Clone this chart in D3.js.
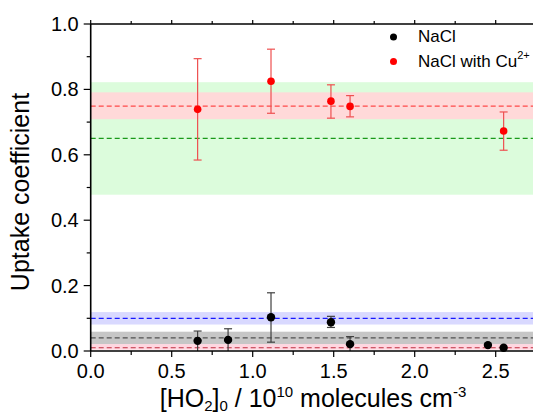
<!DOCTYPE html>
<html><head><meta charset="utf-8">
<script src="https://cdn.jsdelivr.net/npm/d3@7"></script>
<style>body{margin:0;background:#fff;overflow:hidden}svg{display:block;font-family:"Liberation Sans",Arial,sans-serif}</style>
</head><body>
<script>
// NaCl with Cu2+
const cuX = [0.66, 1.113, 1.483, 1.601, 2.549];
const cuY = [0.739, 0.825, 0.764, 0.748, 0.673];
const cuLo = [0.584, 0.727, 0.712, 0.716, 0.614];
const cuHi = [0.894, 0.923, 0.814, 0.781, 0.731];
// NaCl
const naX = [0.66, 0.848, 1.113, 1.483, 1.601, 2.452, 2.549];
const naY = [0.031, 0.034, 0.103, 0.088, 0.021, 0.018, 0.010];
const naLo = [0.0, 0.0, 0.027, 0.072, 0.0, null, null];
const naHi = [0.061, 0.068, 0.178, 0.106, 0.044, null, null];
// reference bands: [low, high], dashed mean
const bandLow = [0.478, 0.709, 0.081, 0.020, 0.004];
const bandHigh = [0.822, 0.791, 0.119, 0.059, 0.021];
const bandMean = [0.65, 0.749, 0.10, 0.04, 0.010];
const bandFill = ["#dcfcdc", "#ffd9d9", "#d9d9ff", "#c6c6c6", "#ffd6e0"];
const bandLine = ["#1a9a1a", "#ff4a4a", "#1a1aff", "#505050", "#c03040"];
const xTicks = [0, 0.5, 1.0, 1.5, 2.0, 2.5];
const yTicks = [0, 0.2, 0.4, 0.6, 0.8, 1.0];

const W = 533, H = 414;
const svg = d3.select("body").append("svg").attr("width", W).attr("height", H);
const x = d3.scaleLinear().domain([0, 2.75]).range([90.7, 536.2]);
const y = d3.scaleLinear().domain([0, 1]).range([351, 24]);

const g = svg.append("g");
// bands
bandLow.forEach((lo, i) => {
  g.append("rect").attr("x", x(0)).attr("width", x(2.75) - x(0))
    .attr("y", y(bandHigh[i])).attr("height", y(lo) - y(bandHigh[i]))
    .attr("fill", bandFill[i]);
});
bandMean.forEach((m, i) => {
  g.append("line").attr("x1", x(0)).attr("x2", x(2.75)).attr("y1", y(m)).attr("y2", y(m))
    .attr("stroke", bandLine[i]).attr("stroke-width", 1.2).attr("stroke-dasharray", "5,3");
});

// error bars
function errBars(xs, lo, hi, color) {
  xs.forEach((xv, i) => {
    if (lo[i] == null) return;
    const px = x(xv);
    g.append("line").attr("x1", px).attr("x2", px).attr("y1", y(lo[i])).attr("y2", y(hi[i]))
      .attr("stroke", color).attr("stroke-width", 1.2);
    [lo[i], hi[i]].forEach(v => {
      if (v <= 0) return;
      g.append("line").attr("x1", px - 4).attr("x2", px + 4).attr("y1", y(v)).attr("y2", y(v))
        .attr("stroke", color).attr("stroke-width", 1.2);
    });
  });
}
errBars(cuX, cuLo, cuHi, "#ee5050");
errBars(naX, naLo, naHi, "#404040");

g.selectAll(".cu").data(cuX).enter().append("circle")
  .attr("cx", d => x(d)).attr("cy", (d, i) => y(cuY[i])).attr("r", 3.8).attr("fill", "#ff0000");
g.selectAll(".na").data(naX).enter().append("circle")
  .attr("cx", d => x(d)).attr("cy", (d, i) => y(naY[i])).attr("r", 4.2).attr("fill", "#000");

// axes
const minorX = d3.range(0, 2.76, 0.25);
const minorY = d3.range(0, 1.01, 0.1);
const ax = svg.append("g");
ax.append("line").attr("x1", x(0)).attr("x2", W).attr("y1", y(0)).attr("y2", y(0)).attr("stroke", "#000").attr("stroke-width", 1.6);
ax.append("line").attr("x1", x(0)).attr("x2", W).attr("y1", y(1)).attr("y2", y(1)).attr("stroke", "#000").attr("stroke-width", 1.6);
ax.append("line").attr("x1", x(0)).attr("x2", x(0)).attr("y1", y(0)).attr("y2", y(1)).attr("stroke", "#000").attr("stroke-width", 1.6);
minorX.forEach(v => {
  const major = Math.abs(v * 2 - Math.round(v * 2)) < 1e-6;
  ax.append("line").attr("x1", x(v)).attr("x2", x(v)).attr("y1", y(0)).attr("y2", y(0) + (major ? 6 : 4))
    .attr("stroke", "#000").attr("stroke-width", 1.2);
  ax.append("line").attr("x1", x(v)).attr("x2", x(v)).attr("y1", y(1)).attr("y2", y(1) - (major ? 4 : 3))
    .attr("stroke", "#000").attr("stroke-width", 1.2);
});
minorY.forEach((v, i) => {
  const major = i % 2 === 0;
  ax.append("line").attr("x1", x(0)).attr("x2", x(0) - (major ? 7 : 4)).attr("y1", y(v)).attr("y2", y(v))
    .attr("stroke", "#000").attr("stroke-width", 1.2);
});
xTicks.forEach(v => {
  ax.append("text").attr("x", x(v)).attr("y", 378).attr("text-anchor", "middle")
    .attr("font-size", 20).text(d3.format(".1f")(v));
});
yTicks.forEach(v => {
  ax.append("text").attr("x", x(0) - 12).attr("y", y(v) + 7).attr("text-anchor", "end")
    .attr("font-size", 20).text(d3.format(".1f")(v));
});

// axis titles
svg.append("text").attr("transform", "translate(29,192) rotate(-90)").attr("text-anchor", "middle")
  .attr("font-size", 25).text("Uptake coefficient");
const xt = svg.append("text").attr("x", 313).attr("y", 407).attr("text-anchor", "middle").attr("font-size", 25);
xt.append("tspan").text("[HO");
xt.append("tspan").attr("font-size", 15).attr("dy", 4).text("2");
xt.append("tspan").attr("dy", -4).text("]");
xt.append("tspan").attr("font-size", 15).attr("dy", 4).text("0");
xt.append("tspan").attr("dy", -4).text(" / 10");
xt.append("tspan").attr("font-size", 15).attr("dy", -10).text("10");
xt.append("tspan").attr("dy", 10).text(" molecules cm");
xt.append("tspan").attr("font-size", 15).attr("dy", -10).text("-3");

// legend
const leg = svg.append("g");
leg.append("circle").attr("cx", 393.5).attr("cy", 37).attr("r", 3.5).attr("fill", "#000");
leg.append("text").attr("x", 418).attr("y", 42).attr("font-size", 17).text("NaCl");
leg.append("circle").attr("cx", 393.5).attr("cy", 61.5).attr("r", 3.5).attr("fill", "#ff0000");
const lt = leg.append("text").attr("x", 418).attr("y", 67).attr("font-size", 17);
lt.append("tspan").text("NaCl with Cu");
lt.append("tspan").attr("font-size", 11).attr("dy", -8).text("2+");
</script>
</body></html>
